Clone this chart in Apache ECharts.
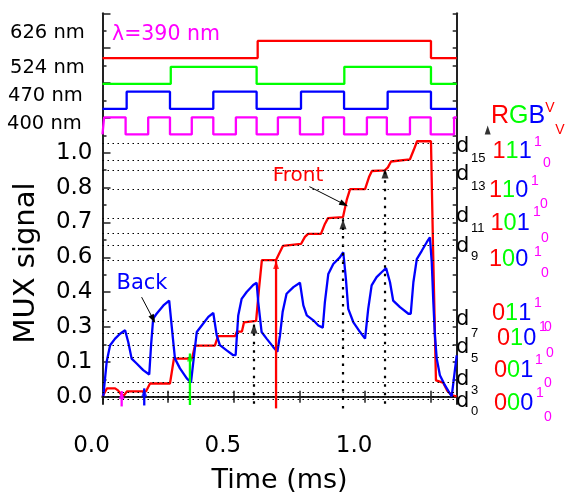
<!DOCTYPE html>
<html><head><meta charset="utf-8">
<script src="https://cdn.jsdelivr.net/npm/echarts@6/dist/echarts.min.js"></script>
<style>html,body{margin:0;padding:0;background:#fff}#c{width:565px;height:499px}</style>
</head><body><div id="c"></div>
<script>
const X_MAX = 1.349;
const Y_MIN = -0.03, Y_MAX = 11 / 7;
const yTickLabels = ['0.0', '0.1', '0.3', '0.4', '0.6', '0.7', '0.8', '1.0'];
const xTickLabels = [0, 0.5, 1.0];
const xTicks = [0.25, 0.5, 0.75, 1.0, 1.25];

// Front (red) MUX signal, [time ms, value]
const frontSignal = [[0.000,0.001],[0.006,0.001],[0.017,0.034],[0.048,0.034],[0.059,0.026],[0.071,0.009],[0.082,0.005],[0.093,0.022],[0.166,0.022],[0.181,0.054],[0.257,0.054],[0.272,0.156],[0.341,0.156],[0.352,0.209],[0.428,0.209],[0.440,0.248],[0.505,0.248],[0.512,0.267],[0.531,0.267],[0.539,0.305],[0.585,0.311],[0.596,0.442],[0.607,0.560],[0.661,0.560],[0.672,0.585],[0.687,0.618],[0.756,0.626],[0.771,0.655],[0.783,0.667],[0.832,0.667],[0.847,0.708],[0.859,0.732],[0.916,0.736],[0.931,0.810],[0.943,0.851],[1.000,0.851],[1.015,0.900],[1.026,0.925],[1.076,0.928],[1.087,0.940],[1.099,0.964],[1.106,0.971],[1.171,0.973],[1.186,1.013],[1.198,1.047],[1.251,1.047],[1.259,0.605],[1.270,0.067],[1.297,0.058],[1.312,0.026],[1.331,0.005],[1.349,0.001]];

// Back (blue) MUX signal
const backSignal = [[0.003,0.001],[0.016,0.144],[0.029,0.211],[0.048,0.238],[0.067,0.258],[0.086,0.272],[0.093,0.275],[0.098,0.224],[0.111,0.156],[0.130,0.136],[0.155,0.109],[0.178,0.091],[0.185,0.211],[0.193,0.320],[0.206,0.340],[0.232,0.374],[0.254,0.394],[0.259,0.393],[0.267,0.251],[0.276,0.156],[0.295,0.116],[0.321,0.075],[0.337,0.058],[0.346,0.144],[0.359,0.265],[0.378,0.292],[0.403,0.327],[0.422,0.343],[0.428,0.340],[0.435,0.251],[0.447,0.211],[0.473,0.190],[0.498,0.170],[0.507,0.170],[0.517,0.333],[0.530,0.401],[0.549,0.429],[0.574,0.458],[0.587,0.467],[0.593,0.389],[0.606,0.265],[0.625,0.238],[0.650,0.204],[0.666,0.184],[0.676,0.251],[0.686,0.347],[0.701,0.422],[0.727,0.449],[0.752,0.467],[0.765,0.374],[0.778,0.333],[0.803,0.313],[0.822,0.292],[0.839,0.283],[0.847,0.388],[0.860,0.503],[0.879,0.544],[0.904,0.571],[0.917,0.592],[0.927,0.483],[0.936,0.360],[0.955,0.306],[0.981,0.265],[1.000,0.238],[1.012,0.360],[1.025,0.456],[1.044,0.490],[1.063,0.510],[1.080,0.527],[1.095,0.469],[1.107,0.394],[1.133,0.367],[1.165,0.340],[1.174,0.340],[1.184,0.469],[1.197,0.564],[1.216,0.598],[1.235,0.633],[1.247,0.653],[1.254,0.551],[1.260,0.388],[1.266,0.251],[1.273,0.156],[1.285,0.088],[1.304,0.047],[1.323,0.013],[1.330,0.001],[1.349,0.169]];

// Digital levels d0..d15
const dLevels = [-0.014,0.002,0.023,0.058,0.159,0.213,0.256,0.309,0.564,0.624,0.669,0.735,0.848,0.925,0.971,1.044];

// LED drive square waves: toggle times (ms), starting low
const redEdges = [0.591, 1.251];
const greenEdges = [0.260, 0.587, 0.921, 1.251];
const blueEdges = [0.092, 0.257, 0.422, 0.587, 0.756, 0.920, 1.086, 1.251];
const magentaEdges = [0.006,0.088,0.174,0.257,0.340,0.422,0.508,0.587,0.668,0.752,0.840,0.920,1.007,1.083,1.171,1.250,1.339];
const redLevels = [1.388, 1.458];
const greenLevels = [1.282, 1.352];
const blueLevels = [1.180, 1.250];
const magentaLevels = [1.075, 1.145];

// channel arrows [time, bottom, tip]
const magentaArrow = [0.073, -0.040, 0.023];
const blueArrow = [0.159, -0.036, 0.034];
const greenArrow = [0.333, -0.034, 0.177];
const redArrow = [0.661, -0.048, 0.556];
// readout dotted arrows [time, bottom, tip]
const readoutArrows = [[0.577, -0.029, 0.300], [0.916, -0.048, 0.727], [1.076, -0.029, 0.935]];
const codeArrow = [1.467, 0.005, 1.112];
const backPointer = [[0.149, 0.408], [0.193, 0.318]];
const frontPointer = [[0.788, 0.861], [0.920, 0.789]];

const dLabelList = [['15', 146.7, 158], ['13', 175, 186], ['11', 216.7, 228], ['9', 246.7, 256.7], ['7', 320, 333], ['5', 348, 358], ['3', 380, 390], ['0', 401.7, 411.7]];
const codeRows = [['111', 492.5, 152], ['110', 489, 191], ['101', 490.5, 224], ['100', 489, 260], ['011', 492, 314], ['010', 497, 339], ['001', 494, 371], ['000', 494, 404]];
const vOnes = [[538,142],[535,181],[537,212],[538,252],[538,303],[543,327],[539,360],[540,393]];
const vZeros = [[547,163],[544,204],[545,238],[545,273],[548,327],[550,353],[548,383],[548,417]];
const nmLabels = [['626 nm', 10, 33], ['524 nm', 10, 67.5], ['470 nm', 8, 96], ['400 nm', 7, 124]];

const RED = '#ff0000', GREEN = '#00ff00', BLUE = '#0000ff', MAG = '#ff00ff';
const FONT = 'DejaVu Sans';
const LW = 2.3;

function wave(edges, levels) {
  let s = 0; const pts = [[0, levels[0]]];
  edges.forEach(t => { pts.push([t, levels[s]]); s = 1 - s; pts.push([t, levels[s]]); });
  pts.push([X_MAX, levels[s]]);
  return pts;
}
function range(a, b, step) { const r = []; for (let k = a; k <= b + 1e-9; k += step) r.push(k / 7); return r; }

const chart = echarts.init(document.getElementById('c'), null, { renderer: 'canvas' });
const axisLineStyle = { color: '#222', width: 2 };

const series = [];
series.push({ type: 'line', data: [], silent: true,
  markLine: { silent: true, symbol: 'none', label: { show: false }, animation: false,
    lineStyle: { color: '#000', type: [1.5, 3.5], width: 1 },
    data: dLevels.map(v => ({ yAxis: v })) } });
[[redEdges, redLevels, RED], [greenEdges, greenLevels, GREEN], [blueEdges, blueLevels, BLUE], [magentaEdges, magentaLevels, MAG]].forEach(([e, l, c]) => {
  series.push({ type: 'line', data: wave(e, l), showSymbol: false, lineStyle: { color: c, width: LW }, clip: false });
});
series.push({ type: 'line', data: frontSignal, showSymbol: false, lineStyle: { color: RED, width: LW }, clip: false, z: 3 });
series.push({ type: 'line', data: backSignal, showSymbol: false, lineStyle: { color: BLUE, width: LW }, clip: false, z: 4 });
const heads = [];
[[magentaArrow, MAG], [blueArrow, BLUE], [greenArrow, GREEN], [redArrow, RED]].forEach(([a, c]) => {
  series.push({ type: 'line', data: [[a[0], a[1]], [a[0], a[2]]], showSymbol: false, lineStyle: { color: c, width: LW }, clip: false, z: 5 });
  heads.push({ value: [a[0], a[2]], itemStyle: { color: c }, symbolSize: [6, 8], symbolOffset: [0, 4] });
});
readoutArrows.forEach(a => {
  series.push({ type: 'line', data: [[a[0], a[1]], [a[0], a[2]]], showSymbol: false, lineStyle: { color: '#000', width: 2.2, type: [2.5, 6] }, clip: false, z: 5 });
  heads.push({ value: [a[0], a[2]], itemStyle: { color: '#000' }, symbolSize: [7, 10], symbolOffset: [0, 5] });
});
series.push({ type: 'line', data: [[codeArrow[0], codeArrow[1]], [codeArrow[0], codeArrow[2]]], showSymbol: false, lineStyle: { color: '#000', width: 1.5, type: [1.5, 3.5] }, clip: false });
heads.push({ value: [codeArrow[0], codeArrow[2]], itemStyle: { color: '#000' }, symbolSize: [6, 9], symbolOffset: [0, 4.5] });
series.push({ type: 'scatter', data: heads, symbol: 'triangle', clip: false, z: 6, silent: true });
series.push({ type: 'line', data: [], silent: true,
  markLine: { silent: true, symbol: ['none', 'triangle'], symbolSize: [6, 9], label: { show: false }, animation: false,
    lineStyle: { color: '#000', type: 'solid', width: 1 },
    data: [[{ coord: backPointer[0] }, { coord: backPointer[1] }], [{ coord: frontPointer[0] }, { coord: frontPointer[1] }]] } });

const graphic = [];
const txt = (text, x, y, opt) => graphic.push({ type: 'text', x, y, z: 100, style: Object.assign({ text, fontFamily: FONT, fill: '#000', align: 'left', verticalAlign: 'middle' }, opt) });
nmLabels.forEach(([t, x, y]) => txt(t, x, y, { fontSize: 19.5 }));
txt('λ=390 nm', 112, 35, { fontSize: 20.5, fill: MAG });
txt('Back', 142, 284, { fontSize: 21, fill: BLUE, align: 'center' });
txt('Front', 298, 175.5, { fontSize: 20, fill: RED, align: 'center' });
graphic.push({ type: 'text', x: 26, y: 263, rotation: Math.PI / 2, z: 100, style: { text: 'MUX signal', fontFamily: FONT, fontSize: 29, fill: '#000', align: 'center', verticalAlign: 'middle' } });
dLabelList.forEach(([s, y1, y2]) => { txt('d', 456, y1, { fontSize: 21 }); txt(s, 471, y2, { fontSize: 13, fontFamily: 'Liberation Sans' }); });
const rich = { r: { fill: RED }, g: { fill: GREEN }, b: { fill: BLUE } };
graphic.push({ type: 'text', x: 491, y: 116, z: 100, style: { text: '{r|R}{g|G}{b|B}', rich, fontFamily: 'Liberation Sans', fontSize: 25, align: 'left', verticalAlign: 'middle' } });
txt('V', 550, 108, { fontSize: 14, fill: RED, fontFamily: 'Liberation Sans', align: 'center' });
txt('V', 560, 130, { fontSize: 14, fill: RED, fontFamily: 'Liberation Sans', align: 'center' });
codeRows.forEach(([code, x, y]) => {
  const keys = ['r', 'g', 'b'];
  graphic.push({ type: 'text', x, y, z: 100, style: { text: code.split('').map((ch, i) => '{' + keys[i] + '|' + ch + '}').join(''), rich, fontFamily: 'Liberation Sans', fontSize: 23.5, align: 'left', verticalAlign: 'middle' } });
});
vOnes.forEach(([x, y]) => txt('1', x, y, { fontSize: 14, fill: MAG, fontFamily: 'Liberation Sans', align: 'center' }));
vZeros.forEach(([x, y]) => txt('0', x, y, { fontSize: 14, fill: MAG, fontFamily: 'Liberation Sans', align: 'center' }));

const yBase = { type: 'value', min: Y_MIN, max: Y_MAX, splitLine: { show: false } };
const option = {
  animation: false,
  backgroundColor: '#fff',
  textStyle: { fontFamily: FONT },
  grid: { left: 102.5, right: 108.3, top: 13.3, bottom: 93.5, containLabel: false },
  xAxis: [
    { type: 'value', position: 'bottom', min: 0, max: X_MAX, splitLine: { show: false },
      axisLine: { lineStyle: axisLineStyle }, axisTick: { inside: true, length: 6, customValues: xTicks, lineStyle: { color: '#222', width: 1.5 } },
      axisLabel: { customValues: xTickLabels, formatter: v => v.toFixed(1), color: '#000', fontSize: 23, fontFamily: FONT, margin: 31, padding: [0, 22, 0, 0] },
      name: 'Time (ms)', nameLocation: 'middle', nameGap: 63, nameTextStyle: { fontSize: 27, color: '#000', fontFamily: FONT } },
    { type: 'value', position: 'top', min: 0, max: X_MAX, splitLine: { show: false },
      axisLine: { lineStyle: axisLineStyle }, axisTick: { inside: true, length: 6, customValues: xTicks, lineStyle: { color: '#222', width: 1.5 } },
      axisLabel: { show: false } }
  ],
  yAxis: [
    Object.assign({}, yBase, { position: 'left', axisLine: { show: true, lineStyle: axisLineStyle },
      axisTick: { inside: true, length: 8, customValues: range(0, 11, 1), lineStyle: { color: '#222', width: 1.5 } },
      axisLabel: { customValues: range(0, 7, 1), formatter: v => yTickLabels[Math.round(v * 7)], color: '#000', fontSize: 23, fontFamily: FONT, margin: 10, padding: [10, 0, 0, 0] } }),
    Object.assign({}, yBase, { position: 'left', axisLine: { show: false },
      axisTick: { inside: true, length: 4, customValues: range(0.5, 10.5, 1), lineStyle: { color: '#222', width: 1.5 } }, axisLabel: { show: false } }),
    Object.assign({}, yBase, { position: 'right', axisLine: { show: true, lineStyle: axisLineStyle },
      axisTick: { inside: true, length: 4, customValues: range(0, 11, 0.5), lineStyle: { color: '#222', width: 1.5 } }, axisLabel: { show: false } })
  ],
  series,
  graphic
};
chart.setOption(option);
</script></body></html>
